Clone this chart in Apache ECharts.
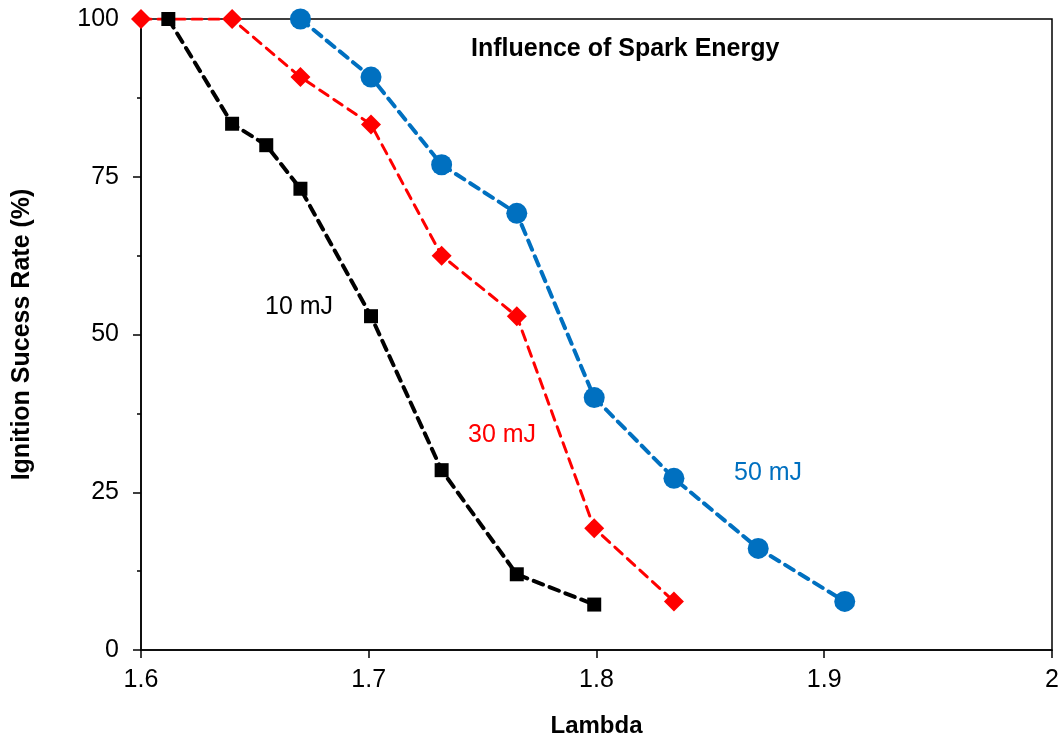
<!DOCTYPE html>
<html><head><meta charset="utf-8">
<script src="https://cdn.jsdelivr.net/npm/echarts@6/dist/echarts.min.js"></script>
<style>html,body{margin:0;padding:0;background:#fff}#c{width:1063px;height:743px}</style>
</head><body><div id="c"></div>
<script>
const lambda10 = [1.612, 1.640, 1.655, 1.670, 1.701, 1.732, 1.765, 1.799];
const rate10   = [100, 83.4, 80.0, 73.1, 52.9, 28.5, 12.0, 7.2];
const lambda30 = [1.600, 1.640, 1.670, 1.701, 1.732, 1.765, 1.799, 1.834];
const rate30   = [100, 100, 90.8, 83.3, 62.5, 52.9, 19.3, 7.7];
const lambda50 = [1.670, 1.701, 1.732, 1.765, 1.799, 1.834, 1.871, 1.909];
const rate50   = [100, 90.8, 76.9, 69.2, 40.0, 27.2, 16.1, 7.7];
const xTicks = [1.6, 1.7, 1.8, 1.9, 2];
const yTicks = [0, 25, 50, 75, 100];

const font = 'Liberation Sans, Arial, sans-serif';
const pair = (xs, ys) => xs.map((x, i) => [x, ys[i]]);
const chart = echarts.init(document.getElementById('c'));
const lineSeries = (name, xs, ys, color, width, symbol, size) => ({
  name, type: 'line', data: pair(xs, ys), symbol, symbolSize: size,
  lineStyle: { color, width, type: [10, 7], cap: 'round' },
  itemStyle: { color }, z: 3, animation: false
});
chart.setOption({
  animation: false,
  grid: { left: 141, right: 11, top: 19, bottom: 91, show: true, borderColor: '#000', borderWidth: 1.5 },
  title: { text: 'Influence of Spark Energy', left: 466, top: 32,
    textStyle: { fontFamily: font, fontSize: 25, fontWeight: 'bold', color: '#000' } },
  xAxis: {
    type: 'value', min: 1.6, max: 2, interval: 0.1,
    name: 'Lambda', nameLocation: 'middle', nameGap: 64,
    nameTextStyle: { fontFamily: font, fontSize: 24, fontWeight: 'bold', color: '#000' },
    axisLine: { lineStyle: { color: '#000', width: 1.5 } },
    axisTick: { show: true, inside: false, length: 8, lineStyle: { color: '#000', width: 1.5 } },
    axisLabel: { fontFamily: font, fontSize: 25, color: '#000', margin: 18,
      formatter: v => { const t = xTicks.find(k => Math.abs(k - v) < 1e-6); return t === undefined ? '' : String(t); } },
    splitLine: { show: false }
  },
  yAxis: {
    type: 'value', min: 0, max: 100, interval: 25,
    name: 'Ignition Sucess Rate (%)', nameLocation: 'middle', nameGap: 106,
    nameTextStyle: { fontFamily: font, fontSize: 25, fontWeight: 'bold', color: '#000' },
    axisLine: { lineStyle: { color: '#000', width: 1.5 } },
    axisTick: { show: true, inside: false, length: 8, lineStyle: { color: '#000', width: 1.5 } },
    minorTick: { show: true, splitNumber: 2, length: 4, lineStyle: { color: '#000', width: 1.5 } },
    axisLabel: { fontFamily: font, fontSize: 25, color: '#000', margin: 22,
      formatter: v => yTicks.includes(v) ? String(v) : '' },
    splitLine: { show: false }
  },
  series: [
    lineSeries('10 mJ', lambda10, rate10, '#000000', 4, 'rect', 14),
    lineSeries('30 mJ', lambda30, rate30, '#FF0000', 3, 'diamond', 20),
    lineSeries('50 mJ', lambda50, rate50, '#0070C0', 4, 'circle', 21)
  ],
  graphic: [
    { type: 'text', left: 265, top: 295, style: { text: '10 mJ', font: '25px ' + font, fill: '#000' } },
    { type: 'text', left: 468, top: 423, style: { text: '30 mJ', font: '25px ' + font, fill: '#FF0000' } },
    { type: 'text', left: 734, top: 461, style: { text: '50 mJ', font: '25px ' + font, fill: '#0070C0' } }
  ]
});
</script></body></html>
